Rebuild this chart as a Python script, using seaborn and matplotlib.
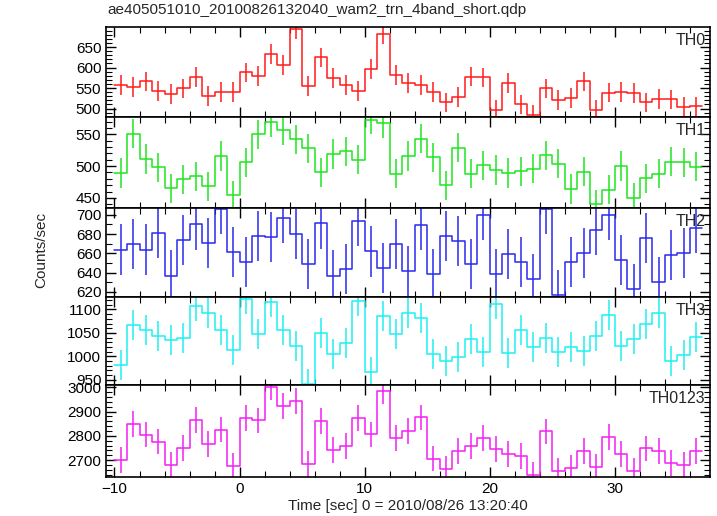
import numpy as np
import matplotlib
matplotlib.use("Agg")
import matplotlib.pyplot as plt
from matplotlib.ticker import MultipleLocator
import seaborn as sns

# bin edges (1 s bins from -10 to 37)
time_lo = list(range(-10, 37))

th0 = [557, 552, 566, 543, 535, 549, 577, 530, 540, 540,
       588, 579, 633, 607, 694, 555, 625, 574, 557, 543,
       596, 682, 582, 562, 557, 540, 515, 528, 578, 576,
       496, 562, 510, 484, 549, 520, 525, 566, 496, 539,
       541, 538, 515, 524, 522, 503, 505]
th1 = [489, 551, 511, 498, 465, 479, 484, 468, 516, 454,
       506, 550, 569, 556, 542, 528, 490, 519, 523, 510,
       573, 567, 488, 516, 543, 514, 470, 529, 488, 501,
       494, 489, 492, 496, 517, 504, 464, 491, 440, 463,
       500, 450, 481, 488, 507, 506, 499]
th2 = [664, 670, 664, 681, 637, 674, 690, 671, 706, 661,
       651, 678, 677, 697, 680, 649, 691, 637, 644, 694,
       662, 645, 670, 642, 689, 639, 678, 673, 649, 700,
       639, 659, 651, 633, 706, 617, 651, 660, 684, 700,
       653, 623, 676, 630, 658, 660, 686]
th3 = [981, 1067, 1056, 1043, 1034, 1039, 1107, 1092, 1056, 1013,
       1122, 1048, 1116, 1056, 1022, 941, 1049, 1006, 1029, 1119,
       967, 1085, 1047, 1092, 1081, 1005, 990, 998, 1036, 1010,
       1111, 1007, 1056, 1020, 1039, 1009, 1019, 1011, 1043, 1089,
       1022, 1036, 1069, 1092, 990, 1002, 1041]
th0123 = [2700, 2848, 2805, 2776, 2679, 2750, 2865, 2767, 2826, 2675,
          2873, 2864, 3002, 2923, 2945, 2683, 2862, 2742, 2759, 2873,
          2806, 2986, 2792, 2819, 2876, 2706, 2662, 2738, 2759, 2792,
          2745, 2724, 2717, 2640, 2818, 2656, 2666, 2738, 2671, 2795,
          2724, 2655, 2748, 2738, 2687, 2679, 2738]

band_names = ["TH0", "TH1", "TH2", "TH3", "TH0123"]
band_errors = [24, 23, 26, 32, 53]
band_colors = ["#ff1a1a", "#1fe61f", "#2a2aee", "#1ff0f0", "#f21ff2"]
band_ylims = [(479, 699.5), (434, 577), (615, 707), (939, 1127), (2630, 3010)]
band_major = [50, 50, 20, 50, 100]
band_minor = [10, 10, 10, 10, 20]

sns.set_theme(style="ticks")
plt.rcParams["font.family"] = ["Liberation Sans", "DejaVu Sans"]

fig, axes = plt.subplots(5, 1, figsize=(7.17, 5.16), dpi=100, sharex=True,
                         gridspec_kw={"height_ratios": [90.3, 91, 88.7, 88.3, 92],
                                      "hspace": 0})
fig.subplots_adjust(left=0.148, right=0.990, top=0.948, bottom=0.0756)

for ax, name, vals, err, col, ylim, maj, mnr in zip(
        axes, band_names, [th0, th1, th2, th3, th0123], band_errors,
        band_colors, band_ylims, band_major, band_minor):
    edges = np.array(time_lo + [time_lo[-1] + 1], dtype=float)
    centers = np.array(time_lo) + 0.5
    yext = list(vals) + [vals[-1]]
    sns.lineplot(x=edges, y=yext, ax=ax, color=col, lw=1.1,
                 drawstyle="steps-post", sort=False, estimator=None)
    ax.errorbar(centers, vals, yerr=err, fmt="none", ecolor=col,
                elinewidth=1.1, capsize=0)
    ax.set_ylim(*ylim)
    ax.set_xlim(-10.67, 37.6)
    ax.yaxis.set_major_locator(MultipleLocator(maj))
    ax.yaxis.set_minor_locator(MultipleLocator(mnr))
    ax.xaxis.set_major_locator(MultipleLocator(10))
    ax.xaxis.set_minor_locator(MultipleLocator(2))
    ax.tick_params(which="both", direction="in", top=True, right=True,
                   labelsize=11, colors="black")
    ax.tick_params(which="major", length=7, width=1.0)
    ax.tick_params(which="minor", length=4, width=0.8)
    for sp in ax.spines.values():
        sp.set_linewidth(1.2)
        sp.set_color("black")
    ax.text(0.993, 0.93, name, transform=ax.transAxes, ha="right", va="top",
            fontsize=11.5)

axes[-1].set_xlabel("Time [sec] 0 = 2010/08/26 13:20:40", fontsize=11,
                    labelpad=2)
fig.text(0.058, 0.5165, "Counts/sec", rotation=90, ha="center", va="center",
         fontsize=11)
fig.text(0.150, 0.980, "ae405051010_20100826132040_wam2_trn_4band_short.qdp",
         ha="left", va="center", fontsize=11)

fig.savefig("out.png", dpi=100, facecolor="white")
